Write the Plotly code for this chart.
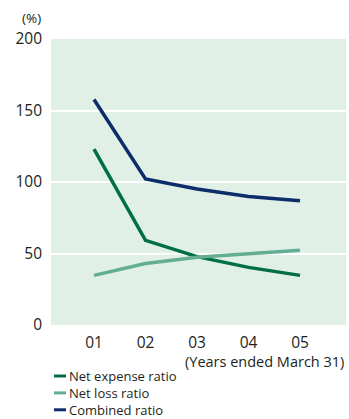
import plotly.graph_objects as go

# Fiscal years (ended March 31) and ratios in percent
years = [1, 2, 3, 4, 5]
year_labels = ["01", "02", "03", "04", "05"]
net_expense_ratio = [123.0, 59.2, 47.8, 40.3, 34.7]
net_loss_ratio = [34.7, 43.0, 47.3, 49.5, 52.2]
combined_ratio = [157.7, 102.2, 95.1, 89.8, 86.9]

series_names = ["Net expense ratio", "Net loss ratio", "Combined ratio"]
series_values = [net_expense_ratio, net_loss_ratio, combined_ratio]
series_colors = ["#006f48", "#63ad94", "#0c2d69"]

y_ticks = [0, 50, 100, 150, 200]

FONT = "Open Sans"
TEXT_COLOR = "#231f20"

fig = go.Figure()
for name, vals, color in zip(series_names, series_values, series_colors):
    fig.add_trace(go.Scatter(
        x=years, y=vals, name=name, mode="lines",
        line=dict(color=color, width=3.5),
        showlegend=False,
    ))

fig.update_layout(
    width=349, height=419,
    margin=dict(l=51, r=3, t=39, b=94),
    paper_bgcolor="white",
    plot_bgcolor="#e1f0e6",
    font=dict(family=FONT, color=TEXT_COLOR, size=14),
    xaxis=dict(
        range=[0.165, 5.893],
        tickmode="array", tickvals=years, ticktext=year_labels,
        showgrid=False, zeroline=False, showline=False, ticks="",
        ticklabelstandoff=6,
        tickfont=dict(size=15.5),
    ),
    yaxis=dict(
        range=[0, 200],
        tickmode="array", tickvals=y_ticks,
        showgrid=True, gridcolor="white", gridwidth=1.5,
        zeroline=False, showline=False, ticks="",
        ticklabelstandoff=8,
        tickfont=dict(size=15.5),
    ),
)

# Unit label above the y axis
fig.add_annotation(
    text="(%)", xref="paper", yref="paper", x=-0.027, y=1.0,
    xanchor="right", yanchor="middle", yshift=21,
    showarrow=False, font=dict(size=13.5),
)

# Caption under the year ticks
fig.add_annotation(
    text="(Years ended March 31)", xref="paper", yref="paper", x=1.0, y=0,
    xanchor="right", yanchor="middle", yshift=-36,
    showarrow=False, font=dict(size=14.5),
)

# Legend: short line keys plus one stacked, left-aligned label block
LEG_FONT = 13
line_step = LEG_FONT * 1.3
first_row = 376
plot_top, plot_bottom = 39, 325
span = plot_bottom - plot_top
for i, color in enumerate(series_colors):
    py = first_row + i * line_step
    yp = (plot_bottom - py) / span
    fig.add_shape(
        type="line", xref="paper", yref="paper",
        x0=(54 - 51) / 295, x1=(66 - 51) / 295, y0=yp, y1=yp,
        line=dict(color=color, width=3),
    )
mid_row = first_row + line_step
fig.add_annotation(
    text="<br>".join(series_names), xref="paper", yref="paper",
    x=(68 - 51) / 295, y=(plot_bottom - mid_row) / span,
    xanchor="left", yanchor="middle", align="left",
    borderpad=0,
    showarrow=False, font=dict(size=LEG_FONT),
)

fig.write_html("out.html")
